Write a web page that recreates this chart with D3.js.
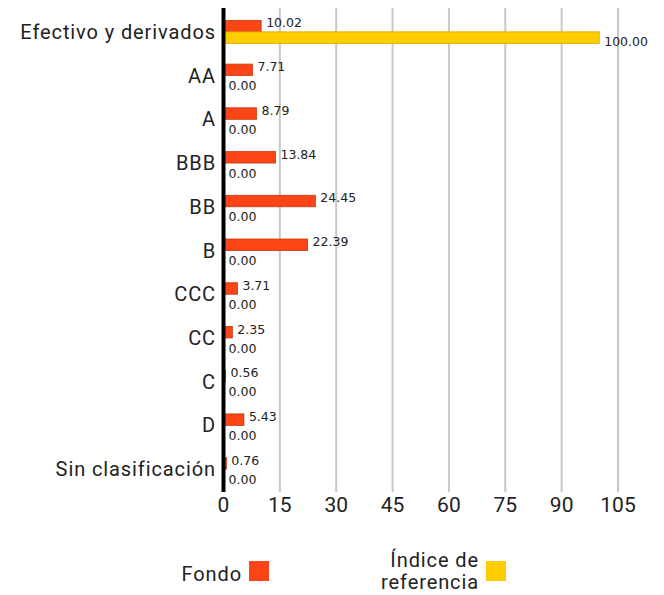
<!DOCTYPE html>
<html>
<head>
<meta charset="utf-8">
<script src="https://cdn.jsdelivr.net/npm/d3@7"></script>
<style>
  body { margin: 0; background: #fff; }
  svg { display: block; }
</style>
</head>
<body>
<div id="chart"></div>
<script>
var categories = ["Efectivo y derivados", "AA", "A", "BBB", "BB", "B", "CCC", "CC", "C", "D", "Sin clasificación"];
var fondo = [10.02, 7.71, 8.79, 13.84, 24.45, 22.39, 3.71, 2.35, 0.56, 5.43, 0.76];
var indice = [100.00, 0, 0, 0, 0, 0, 0, 0, 0, 0, 0];
var ticks = [0, 15, 30, 45, 60, 75, 90, 105];
var seriesNames = ["Fondo", "Índice de referencia"];

var width = 664, height = 595;
var colFondo = "#fc4516", colIndice = "#ffcc00";

var svg = d3.select("#chart").append("svg")
  .attr("width", width)
  .attr("height", height);

// scales
var x = d3.scaleLinear().domain([0, 105]).range([223.5, 618]);
var y = d3.scaleBand().domain(categories).range([10, 491]);

// gridlines
svg.append("g").selectAll("line")
  .data(ticks.slice(1))
  .enter().append("line")
  .attr("x1", function (d) { return x(d); })
  .attr("x2", function (d) { return x(d); })
  .attr("y1", 8)
  .attr("y2", 492)
  .style("stroke", "#c8c8c8")
  .style("stroke-width", 2);

var barH = 11.5;

// fondo bars
svg.append("g").selectAll("rect")
  .data(fondo)
  .enter().append("rect")
  .attr("x", x(0))
  .attr("y", function (d, i) { return y(categories[i]) + y.bandwidth() / 2 - barH; })
  .attr("width", function (d) { return x(d) - x(0); })
  .attr("height", barH)
  .style("fill", colFondo)
  .style("stroke", "#c23a10")
  .style("stroke-width", 0.8);

// indice bars
svg.append("g").selectAll("rect")
  .data(indice)
  .enter().append("rect")
  .attr("x", x(0))
  .attr("y", function (d, i) { return y(categories[i]) + y.bandwidth() / 2; })
  .attr("width", function (d) { return x(d) - x(0); })
  .attr("height", barH)
  .style("fill", colIndice)
  .style("stroke", "#d4a500")
  .style("stroke-width", function (d) { return d > 0 ? 0.8 : 0; });

// value labels
var valFont = "'DejaVu Sans', Verdana, sans-serif";
svg.append("g").selectAll("text")
  .data(fondo)
  .enter().append("text")
  .attr("x", function (d) { return x(d) + 5; })
  .attr("y", function (d, i) { return y(categories[i]) + y.bandwidth() / 2 - barH / 2 - 3; })
  .attr("dy", "0.35em")
  .style("font-family", valFont)
  .style("font-size", "12.5px")
  .style("fill", "#222")
  .text(function (d) { return d.toFixed(2); });

svg.append("g").selectAll("text")
  .data(indice)
  .enter().append("text")
  .attr("x", function (d) { return x(d) + 5; })
  .attr("y", function (d, i) { return y(categories[i]) + y.bandwidth() / 2 + barH / 2 + 4.5; })
  .attr("dy", "0.35em")
  .style("font-family", valFont)
  .style("font-size", "12.5px")
  .style("fill", "#222")
  .text(function (d) { return d.toFixed(2); });

// category labels
var mainFont = "Roboto, 'Noto Sans', sans-serif";
svg.append("g").selectAll("text")
  .data(categories)
  .enter().append("text")
  .attr("x", 216)
  .attr("y", function (d) { return y(d) + y.bandwidth() / 2; })
  .attr("dy", "0.35em")
  .attr("text-anchor", "end")
  .style("font-family", mainFont)
  .style("font-size", "20px")
  .style("letter-spacing", "0.9px")
  .style("fill", "#222")
  .text(function (d) { return d; });

// axis line
svg.append("line")
  .attr("x1", x(0)).attr("x2", x(0))
  .attr("y1", 8).attr("y2", 492)
  .style("stroke", "#000")
  .style("stroke-width", 4);

// x tick labels
svg.append("g").selectAll("text")
  .data(ticks)
  .enter().append("text")
  .attr("x", function (d) { return x(d); })
  .attr("y", 505)
  .attr("dy", "0.35em")
  .attr("text-anchor", "middle")
  .style("font-family", mainFont)
  .style("font-size", "21px")
  .style("fill", "#222")
  .text(function (d) { return d; });

// legend
var legend = svg.append("g");
legend.append("text")
  .attr("x", 242).attr("y", 574).attr("dy", "0.35em")
  .attr("text-anchor", "end")
  .style("font-family", mainFont).style("font-size", "20px")
  .style("letter-spacing", "0.9px").style("fill", "#222")
  .text(seriesNames[0]);
legend.append("rect")
  .attr("x", 249).attr("y", 561).attr("width", 20).attr("height", 20)
  .style("fill", colFondo);

var idxText = legend.append("text")
  .attr("text-anchor", "end")
  .style("font-family", mainFont).style("font-size", "20px")
  .style("letter-spacing", "0.9px").style("fill", "#222");
idxText.append("tspan").attr("x", 479).attr("y", 567).text("Índice de");
idxText.append("tspan").attr("x", 479).attr("y", 589).text("referencia");
legend.append("rect")
  .attr("x", 486).attr("y", 561).attr("width", 20).attr("height", 20)
  .style("fill", colIndice);
</script>
</body>
</html>
